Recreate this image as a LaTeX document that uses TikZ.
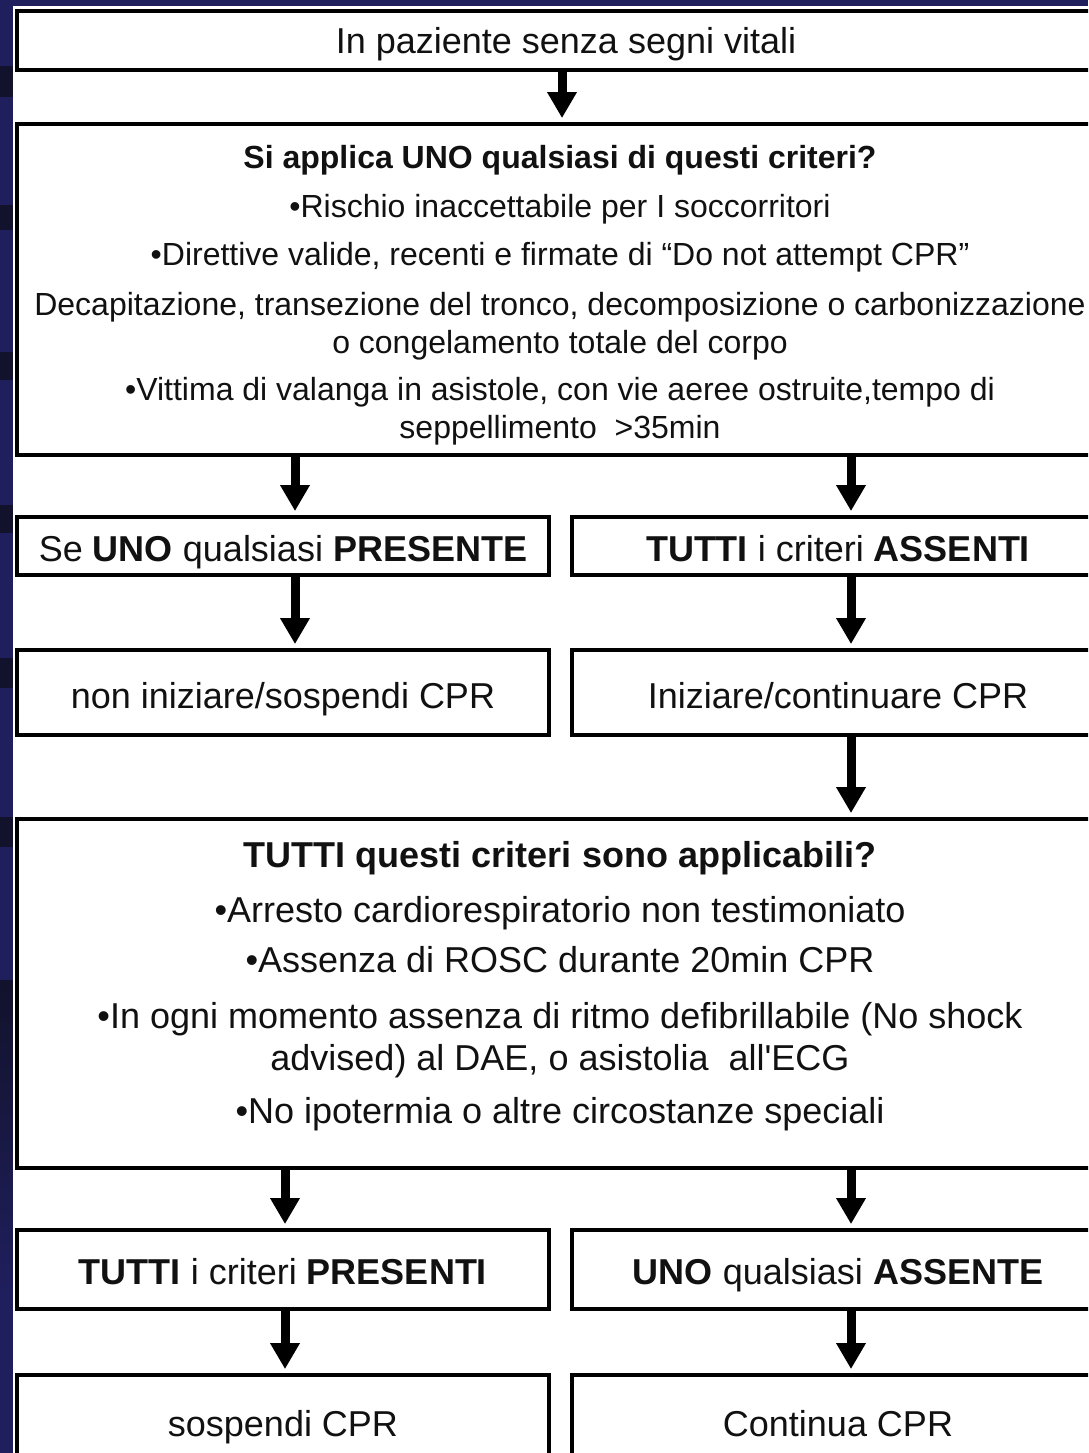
\documentclass[tikz,border=0pt]{standalone}
\usepackage{fontspec}
\setmainfont{Liberation Sans}
\usetikzlibrary{arrows.meta}
\definecolor{navy}{HTML}{201F5E}
\definecolor{darkband}{HTML}{12122C}
\definecolor{ink}{HTML}{111111}
\begin{document}
\begin{tikzpicture}[x=1pt,y=-1pt,
  box/.style={draw=black, line width=3.8pt, fill=white, inner sep=0pt},
  big/.style={font=\fontsize{36}{40}\selectfont, text=ink, anchor=base, inner sep=0pt},
  small/.style={font=\fontsize{32}{38}\selectfont, text=ink, anchor=base, inner sep=0pt},
  flow/.style={line width=9pt, -{Triangle[width=28pt,length=26pt]}, shorten >=4pt}]
\useasboundingbox (0,0) rectangle (1088,1453);
\clip (0,0) rectangle (1088,1453);
% background
\fill[navy] (0,0) rectangle (1088,1453);
\fill[darkband] (0,66) rectangle (14,97);
\fill[darkband] (0,205) rectangle (14,230);
\fill[darkband] (0,352) rectangle (14,380);
\fill[darkband] (0,505) rectangle (14,533);
\fill[darkband] (0,658) rectangle (14,688);
\fill[darkband] (0,817) rectangle (14,847);
\shade[top color=darkband, bottom color=navy] (0,980) rectangle (14,1300);
\fill[white] (13,6) rectangle (1100,1460);
% boxes
\node[box, minimum width=1099pt, minimum height=59pt] (b1) at (566.5,40.5) {};
\node[box, minimum width=1087pt, minimum height=331pt] (b2) at (560.5,289.5) {};
\node[box, minimum width=532pt, minimum height=58pt] (b3l) at (283,546) {};
\node[box, minimum width=532pt, minimum height=58pt] (b3r) at (838,546) {};
\node[box, minimum width=532pt, minimum height=85pt] (b4l) at (283,692.5) {};
\node[box, minimum width=532pt, minimum height=85pt] (b4r) at (838,692.5) {};
\node[box, minimum width=1087pt, minimum height=349pt] (b5) at (560.5,993.5) {};
\node[box, minimum width=532pt, minimum height=79pt] (b6l) at (283,1269.5) {};
\node[box, minimum width=532pt, minimum height=79pt] (b6r) at (838,1269.5) {};
\node[box, minimum width=532pt, minimum height=125pt] (b7l) at (283,1437.5) {};
\node[box, minimum width=532pt, minimum height=125pt] (b7r) at (838,1437.5) {};
% texts
\node[big] (t1) at (566,54) {In paziente senza segni vitali};
\node[small, font=\fontsize{32}{38}\selectfont\bfseries] (t2a) at (560,168) {Si applica UNO qualsiasi di questi criteri?};
\node[small] (t2b) at (560,217) {•Rischio inaccettabile per I soccorritori};
\node[small] (t2c) at (560,265) {•Direttive valide, recenti e firmate di “Do not attempt CPR”};
\node[small] (t2d) at (560,315) {Decapitazione, transezione del tronco, decomposizione o carbonizzazione};
\node[small] (t2e) at (560,353) {o congelamento totale del corpo};
\node[small] (t2f) at (560,400) {•Vittima di valanga in asistole, con vie aeree ostruite,tempo di};
\node[small] (t2g) at (560,438) {seppellimento\ \ >35min};
\node[big] (t3l) at (283,561) {Se \textbf{UNO} qualsiasi \textbf{PRESENTE}};
\node[big] (t3r) at (838,561) {\textbf{TUTTI} i criteri \textbf{ASSENTI}};
\node[big] (t4l) at (283,708) {non iniziare/sospendi CPR};
\node[big] (t4r) at (838,708) {Iniziare/continuare CPR};
\node[big, font=\fontsize{36}{40}\selectfont\bfseries] (t5a) at (560,867) {TUTTI questi criteri sono applicabili?};
\node[big] (t5b) at (560,922) {•Arresto cardiorespiratorio non testimoniato};
\node[big] (t5c) at (560,972) {•Assenza di ROSC durante 20min CPR};
\node[big] (t5d) at (560,1028) {•In ogni momento assenza di ritmo defibrillabile (No shock};
\node[big] (t5e) at (560,1070) {advised) al DAE, o asistolia\ \ all\textquotesingle ECG};
\node[big] (t5f) at (560,1123) {•No ipotermia o altre circostanze speciali};
\node[big] (t6l) at (283,1284) {\textbf{TUTTI} i criteri \textbf{PRESENTI}};
\node[big] (t6r) at (838,1284) {\textbf{UNO} qualsiasi \textbf{ASSENTE}};
\node[big] (t7l) at (283,1436) {sospendi CPR};
\node[big] (t7r) at (838,1436) {Continua CPR};
% arrow columns
\coordinate (xa) at (562,0);
\coordinate (xl) at (295,0);
\coordinate (xll) at (285,0);
\coordinate (xr) at (851,0);
% connectors
\draw[flow] (b1.south -| xa) -- (b2.north -| xa);
\draw[flow] (b2.south -| xl) -- (b3l.north -| xl);
\draw[flow] (b2.south -| xr) -- (b3r.north -| xr);
\draw[flow] (b3l.south -| xl) -- (b4l.north -| xl);
\draw[flow] (b3r.south -| xr) -- (b4r.north -| xr);
\draw[flow] (b4r.south -| xr) -- (b5.north -| xr);
\draw[flow] (b5.south -| xll) -- (b6l.north -| xll);
\draw[flow] (b5.south -| xr) -- (b6r.north -| xr);
\draw[flow] (b6l.south -| xll) -- (b7l.north -| xll);
\draw[flow] (b6r.south -| xr) -- (b7r.north -| xr);
\end{tikzpicture}
\end{document}
